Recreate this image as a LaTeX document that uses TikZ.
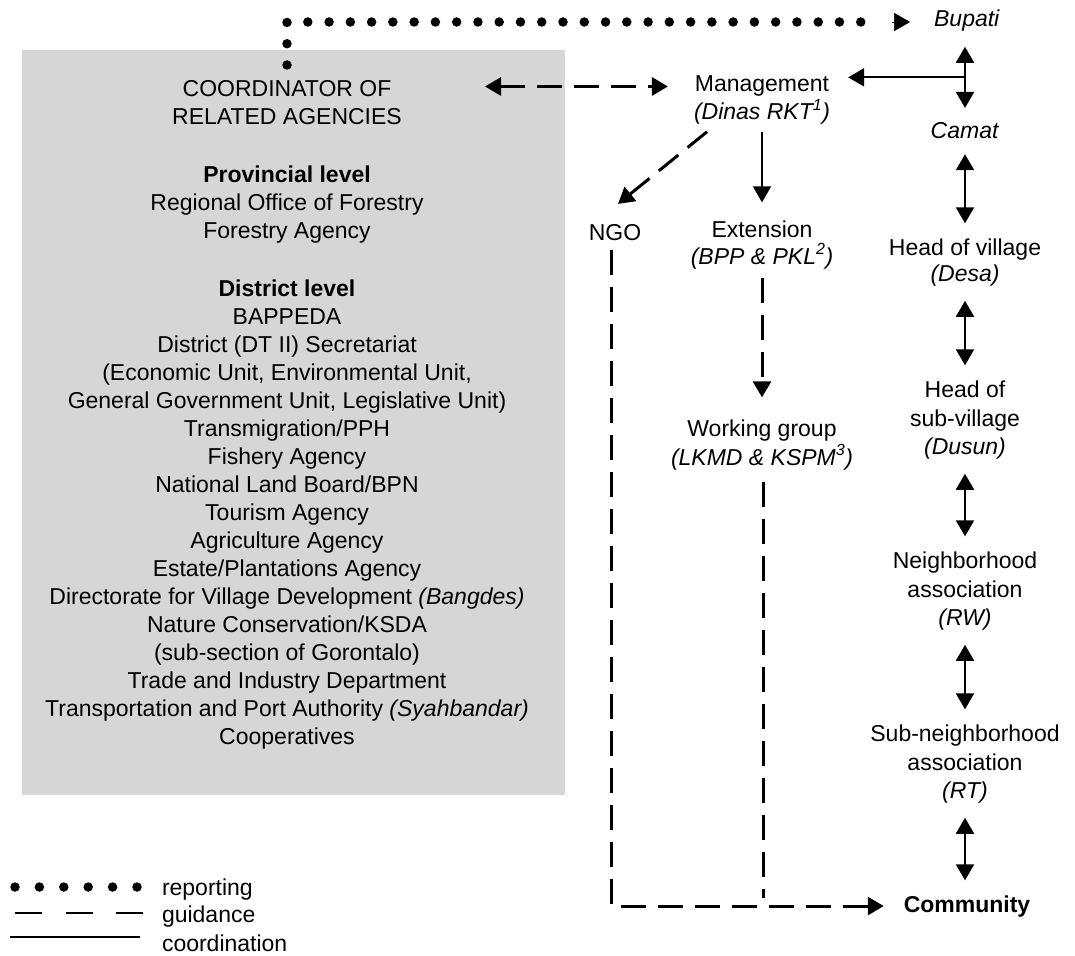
\documentclass[tikz,border=0pt]{standalone}
\usepackage{fontspec}
\setmainfont{Liberation Sans}
\usetikzlibrary{arrows.meta,calc}
\definecolor{boxgray}{RGB}{214,214,214}
\begin{document}
\begin{tikzpicture}[x=1pt,y=-1pt,
  every node/.style={inner sep=0pt, outer sep=0pt, font=\fontsize{23}{28}\selectfont},
  lbl/.style={anchor=base},
  tip/.style={-{Triangle[length=16pt,width=18pt]}},
  dtip/.style={{Triangle[length=16pt,width=18pt]}-{Triangle[length=16pt,width=18pt]}},
  coordln/.style={line width=2pt},
  guide/.style={line width=3pt, dash pattern=on 25pt off 12pt},
  report/.style={line width=9.5pt, line cap=round, dash pattern=on 0pt off 21.2667pt},
  vlink/.style={coordln, dtip, shorten <=15pt, shorten >=15pt},
]
\useasboundingbox (0,0) rectangle (1075,955);
\fill[white] (0,0) rectangle (1075,955);

% coordinator box
\node[fill=boxgray, minimum width=543pt, minimum height=745pt, anchor=north west] (coord) at (22,50) {};
\node[anchor=north, align=center] (coordtext) at (287,80.5) {COORDINATOR OF\\RELATED AGENCIES\\[30pt]
\textbf{Provincial level}\\
Regional Office of Forestry\\
Forestry Agency\\[30pt]
\textbf{District level}\\
BAPPEDA\\
District (DT II) Secretariat\\
(Economic Unit, Environmental Unit,\\
General Government Unit, Legislative Unit)\\
Transmigration/PPH\\
Fishery Agency\\
National Land Board/BPN\\
Tourism Agency\\
Agriculture Agency\\
Estate/Plantations Agency\\
Directorate for Village Development \textit{(Bangdes)}\\
Nature Conservation/KSDA\\
(sub-section of Gorontalo)\\
Trade and Industry Department\\
Transportation and Port Authority \textit{(Syahbandar)}\\
Cooperatives};

% middle column
\node[lbl] (mgmt) at (762,92) {Management};
\node[lbl] (dinas) at (762,120) {\textit{(Dinas RKT\textsuperscript{1})}};
\node[lbl] (ngo) at (615,240) {NGO};
\node[lbl] (ext) at (762,237) {Extension};
\node[lbl] (bpp) at (762,264) {\textit{(BPP \& PKL\textsuperscript{2})}};
\node[lbl] (wg) at (762,436) {Working group};
\node[lbl] (lkmd) at (762,465) {\textit{(LKMD \& KSPM\textsuperscript{3})}};

% right column
\node[lbl] (bupati) at (967,27) {\textit{Bupati}};
\node[lbl] (camat) at (965,139) {\textit{Camat}};
\node[lbl] (hv) at (965,255) {Head of village};
\node[lbl] (desa) at (965,281) {\textit{(Desa)}};
\node[lbl] (hs1) at (965,397) {Head of};
\node[lbl] (hs2) at (965,426) {sub-village};
\node[lbl] (dusun) at (965,454) {\textit{(Dusun)}};
\node[lbl] (nb1) at (965,568) {Neighborhood};
\node[lbl] (nb2) at (965,597) {association};
\node[lbl] (rw) at (965,625) {\textit{(RW)}};
\node[lbl] (sn1) at (965,741) {Sub-neighborhood};
\node[lbl] (sn2) at (965,770) {association};
\node[lbl] (rt) at (965,798) {\textit{(RT)}};
\node[lbl] (comm) at (967,912) {\textbf{Community}};

% reporting (dotted)
\coordinate (rep0) at (287,65);
\coordinate (dotend) at (882,22);
\draw[report] (rep0) |- (dotend);
\draw[line width=0.5pt, tip, shorten <=10pt, shorten >=24pt] (dotend) -- (dotend -| bupati.west);

% right column double arrows
\draw[vlink] (bupati.south -| camat.north) -- (camat.north);
\draw[vlink] (camat.south) -- (hv.north);
\draw[vlink] (desa.south) -- (hs1.north);
\draw[vlink] (dusun.south) -- (nb1.north);
\draw[vlink] (rw.south) -- (sn1.north);
\draw[vlink] (rt.south) -- (comm.north -| rt.south);

% coordination arrow to management
\coordinate (bc) at ($(bupati.south -| camat.north)!0.5!(camat.north)$);
\draw[line width=1.8pt, tip] (bc) -- ($(bc -| mgmt.east)+(19,0)$);

% guidance
\draw[guide, dtip] ($(coord.east |- mgmt.west)+(-80,0)$) -- ($(mgmt.west)+(-27,0)$);
\draw[guide, tip] ($(dinas.south west)+(13,7)$) -- ($(ngo.north)+(3,-20)$);
\draw[coordln, tip, shorten <=7pt, shorten >=18pt] (dinas.south) -- (ext.north);
\draw[guide, tip, shorten <=9pt, shorten >=22pt] (bpp.south) -- (wg.north);
\draw[guide, tip] ($(ngo.south)+(-4,10)$) |- ($(comm.west)+(-20,0)$);
\draw[guide] ($(lkmd.south)+(1,12)$) -- ($(lkmd.south |- comm.west)+(1,-8)$);

% legend
\coordinate (l1a) at (15,887); \coordinate (l1b) at (137,887);
\coordinate (l2a) at (15,913); \coordinate (l2b) at (143,913);
\coordinate (l3a) at (10,937); \coordinate (l3b) at (140,937);
\draw[report, dash pattern=on 0pt off 24.4pt] (l1a) -- (l1b);
\draw[line width=2.5pt, dash pattern=on 27pt off 23.5pt] (l2a) -- (l2b);
\draw[line width=1.8pt] (l3a) -- (l3b);
\node[anchor=base west] (lrep) at (162,895) {reporting};
\node[anchor=base west] (lgui) at (162,922) {guidance};
\node[anchor=base west] (lcoo) at (162,951) {coordination};
\end{tikzpicture}
\end{document}
